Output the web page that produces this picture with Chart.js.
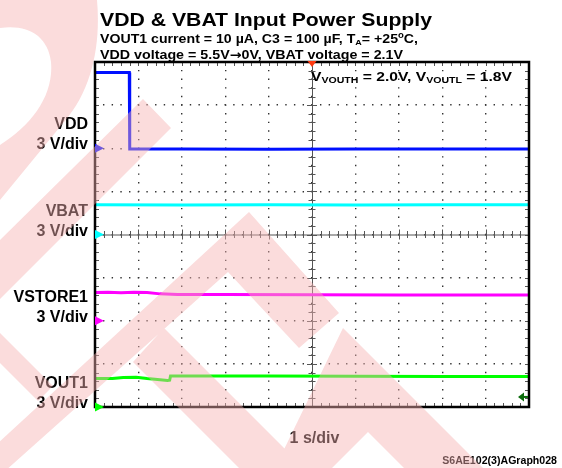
<!DOCTYPE html>
<html>
<head>
<meta charset="utf-8">
<script src="https://cdn.jsdelivr.net/npm/chart.js@4.4.1/dist/chart.umd.min.js"></script>
<style>
  html, body { margin: 0; padding: 0; background: #fff; }
</style>
</head>
<body>
<canvas id="scope" width="562" height="468"></canvas>
<script>
// Scope settings
const timePerDiv = 1;          // s/div
const voltsPerDiv = 3;         // V/div for every channel
const timeDivs = 10;
const voltDivs = 8;

// Channels (top to bottom)
const channelNames = ["VDD", "VBAT", "VSTORE1", "VOUT1"];
const channelOffsetDiv = [6, 4, 2, 0];   // ground marker position, divisions from bottom
const triggerLevelVolts = 0.7;           // on VOUT1

// Traces: time in s, level in V
const vddTime = [0, 0.79, 0.8, 2, 4, 6, 8, 10];
const vddVolts = [5.27, 5.27, -0.06, -0.06, -0.07, -0.06, -0.06, -0.06];

const vbatTime = [0, 2, 4, 6, 8, 10];
const vbatVolts = [2.07, 2.06, 2.07, 2.06, 2.07, 2.07];

const vstoreTime = [0, 0.3, 0.6, 0.9, 1.2, 1.5, 1.9, 3, 5, 7, 10];
const vstoreVolts = [1.96, 1.98, 1.94, 1.99, 1.96, 1.87, 1.83, 1.82, 1.81, 1.8, 1.8];

const vout1Time = [0, 0.4, 0.65, 0.95, 1.2, 1.5, 1.67, 1.72, 1.74, 2.5, 4, 6, 8, 10];
const vout1Volts = [1.99, 1.98, 2.05, 2.07, 1.98, 1.9, 1.84, 1.86, 2.15, 2.16, 2.15, 2.14, 2.13, 2.12];

// Text
const titleText = "VDD & VBAT Input Power Supply";
const xAxisText = "1 s/div";
const graphId = "S6AE102(3)AGraph028";

const channelColors = ["#0010ff", "#00ffff", "#ff00ff", "#00ff00"];
const traces = [
  [vddTime, vddVolts],
  [vbatTime, vbatVolts],
  [vstoreTime, vstoreVolts],
  [vout1Time, vout1Volts],
];

const datasets = traces.map(([t, v], ch) => ({
  label: channelNames[ch],
  data: t.map((time, i) => ({ x: time, y: channelOffsetDiv[ch] + v[i] / voltsPerDiv })),
  borderColor: channelColors[ch],
  borderWidth: 3,
  pointRadius: 0,
  tension: 0,
}));

const FONT = '"Liberation Sans", Arial, Helvetica, sans-serif';
const font = (size, family) => `bold ${size}px ${family || FONT}`;

// draw a row of text runs (sub/superscripts), stretched to a width when given
function drawRuns(ctx, x, y, runs, width) {
  let natural = 0;
  runs.forEach((r) => {
    ctx.font = font(r.size, r.family);
    natural += ctx.measureText(r.text).width;
  });
  const sx = width ? width / natural : 1;
  ctx.save();
  ctx.translate(x, y);
  ctx.scale(sx, 1);
  let cx = 0;
  runs.forEach((r) => {
    ctx.font = font(r.size, r.family);
    ctx.fillText(r.text, cx, r.dy || 0);
    cx += ctx.measureText(r.text).width;
  });
  ctx.restore();
}

// background logo shapes (decoration over the whole picture)
function watermarkPath(c) {
  c.beginPath();
  c.moveTo(0, 0);
  c.lineTo(97, 0);
  c.bezierCurveTo(101, 45, 92, 90, 64, 122);
  c.lineTo(0, 200);
  c.lineTo(0, 145);
  c.bezierCurveTo(32, 125, 54, 95, 51, 62);
  c.bezierCurveTo(48, 36, 28, 24, 0, 28);
  c.closePath();
  const polys = [
    [[0, 240], [143, 99], [171, 128], [0, 299]],
    [[249, 212], [339, 313], [299, 348], [228, 272], [-5, 480], [-42, 480]],
    [[164, 328], [304, 468], [239, 468], [133, 362]],
    [[0, 333], [53, 386], [38, 401], [0, 363]],
    [[343, 328], [483, 468], [404, 468], [368, 432], [332, 468], [275, 468]],
  ];
  polys.forEach((p) => {
    c.moveTo(p[0][0], p[0][1]);
    p.slice(1).forEach(([x, y]) => c.lineTo(x, y));
    c.closePath();
  });
}

const scopeDecor = {
  id: "scopeDecor",
  beforeDatasetsDraw(chart) {
    const { ctx, chartArea: a, scales: { x, y } } = chart;
    const xc = x.getPixelForValue(timeDivs / 2);
    const yc = y.getPixelForValue(voltDivs / 2);
    ctx.save();
    ctx.strokeStyle = "#555";
    ctx.lineWidth = 1;
    ctx.beginPath();
    ctx.moveTo(a.left, yc + 0.5);
    ctx.lineTo(a.right, yc + 0.5);
    ctx.moveTo(xc + 0.5, a.top);
    ctx.lineTo(xc + 0.5, a.bottom);
    // minor ticks on the centre lines and inside the frame
    for (let i = 0; i <= timeDivs * 5; i++) {
      const px = Math.round(x.getPixelForValue(i / 5)) + 0.5;
      const len = i % 5 === 0 ? 5 : 3.5;
      ctx.moveTo(px, yc - len);
      ctx.lineTo(px, yc + len);
      ctx.moveTo(px, a.top);
      ctx.lineTo(px, a.top + 4);
      ctx.moveTo(px, a.bottom);
      ctx.lineTo(px, a.bottom - 4);
    }
    for (let i = 0; i <= voltDivs * 5; i++) {
      const py = Math.round(y.getPixelForValue(i / 5)) + 0.5;
      const len = i % 5 === 0 ? 5 : 3.5;
      ctx.moveTo(xc - len, py);
      ctx.lineTo(xc + len, py);
      ctx.moveTo(a.left, py);
      ctx.lineTo(a.left + 4, py);
      ctx.moveTo(a.right, py);
      ctx.lineTo(a.right - 4, py);
    }
    ctx.stroke();
    ctx.restore();
  },
  afterDatasetsDraw(chart) {
    const { ctx, chartArea: a, scales: { x, y } } = chart;
    ctx.save();
    ctx.strokeStyle = "#000";
    ctx.lineWidth = 2.5;
    ctx.strokeRect(a.left, a.top, a.right - a.left, a.bottom - a.top);

    // channel ground markers
    channelOffsetDiv.forEach((d, ch) => {
      const py = y.getPixelForValue(d);
      ctx.fillStyle = channelColors[ch];
      ctx.beginPath();
      ctx.moveTo(a.left, py - 4.5);
      ctx.lineTo(a.left + 9, py);
      ctx.lineTo(a.left, py + 4.5);
      ctx.closePath();
      ctx.fill();
    });

    // trigger position
    const tx = x.getPixelForValue(timeDivs / 2);
    ctx.fillStyle = "#ff3a10";
    ctx.beginPath();
    ctx.moveTo(tx - 4.5, a.top - 1);
    ctx.lineTo(tx + 4.5, a.top - 1);
    ctx.lineTo(tx, a.top + 5);
    ctx.closePath();
    ctx.fill();

    // trigger level
    const ty = y.getPixelForValue(channelOffsetDiv[3] + triggerLevelVolts / voltsPerDiv);
    ctx.fillStyle = "#0b6b0b";
    ctx.beginPath();
    ctx.moveTo(a.right - 11, ty);
    ctx.lineTo(a.right - 5, ty - 4.5);
    ctx.lineTo(a.right - 5, ty + 4.5);
    ctx.closePath();
    ctx.fill();
    ctx.fillRect(a.right - 6, ty - 1, 5, 2);
    ctx.restore();
  },
  afterDraw(chart) {
    const { ctx, scales: { y } } = chart;
    ctx.save();
    ctx.fillStyle = "#000";
    ctx.textBaseline = "alphabetic";
    ctx.textAlign = "left";

    drawRuns(ctx, 100, 26, [{ text: titleText, size: 18.6 }], 332);
    drawRuns(ctx, 100, 43.3, [
      { text: "VOUT1 current = 10 µA, C3 = 100 µF, T", size: 12.6 },
      { text: "A", size: 8, dy: 1.5 },
      { text: "= +25", size: 12.6 },
      { text: "o", size: 8.5, dy: -5 },
      { text: "C,", size: 12.6 },
    ], 318);
    drawRuns(ctx, 100, 58.5, [
      { text: "VDD voltage = 5.5V", size: 12.6 },
      { text: "\u2192", size: 12.6, family: '"DejaVu Sans", sans-serif' },
      { text: "0V, VBAT voltage = 2.1V", size: 12.6 },
    ], 303);
    drawRuns(ctx, 311, 81, [
      { text: "V", size: 12.6 },
      { text: "VOUTH", size: 8.5, dy: 2 },
      { text: " = 2.0V, V", size: 12.6 },
      { text: "VOUTL", size: 8.5, dy: 2 },
      { text: " = 1.8V", size: 12.6 },
    ], 201);

    // channel labels
    ctx.font = font(16);
    ctx.textAlign = "right";
    channelOffsetDiv.forEach((d, ch) => {
      const py = y.getPixelForValue(d);
      ctx.fillText(channelNames[ch], 88, py - 19);
      ctx.fillText(voltsPerDiv + " V/div", 88, py + 1);
    });

    ctx.textAlign = "center";
    ctx.fillText(xAxisText, 314.5, 443);
    ctx.textAlign = "right";
    ctx.font = font(10.6);
    ctx.fillText(graphId, 557, 464);

    // translucent logo on top
    const off = document.createElement("canvas");
    off.width = chart.width;
    off.height = chart.height;
    const oc = off.getContext("2d");
    oc.fillStyle = "rgb(245,178,178)";
    watermarkPath(oc);
    oc.fill();
    ctx.globalAlpha = 0.45;
    ctx.drawImage(off, 0, 0);
    ctx.restore();
  },
};

new Chart(document.getElementById("scope"), {
  type: "line",
  data: { datasets },
  options: {
    responsive: false,
    animation: false,
    devicePixelRatio: 1,
    layout: { padding: { left: 95, right: 33, top: 62, bottom: 61 } },
    plugins: { legend: { display: false }, tooltip: { enabled: false } },
    scales: {
      x: {
        type: "linear",
        min: 0,
        max: timeDivs * timePerDiv,
        ticks: { display: false, stepSize: timePerDiv },
        grid: { color: "#333", lineWidth: 1.4, drawTicks: false },
        border: { display: false, dash: [1.4, 7.225], dashOffset: 0.7 },
      },
      y: {
        type: "linear",
        min: 0,
        max: voltDivs,
        ticks: { display: false, stepSize: 1 },
        grid: { color: "#333", lineWidth: 1.4, drawTicks: false },
        border: { display: false, dash: [1.4, 7.28], dashOffset: 0.7 },
      },
    },
  },
  plugins: [scopeDecor],
});
</script>
</body>
</html>
